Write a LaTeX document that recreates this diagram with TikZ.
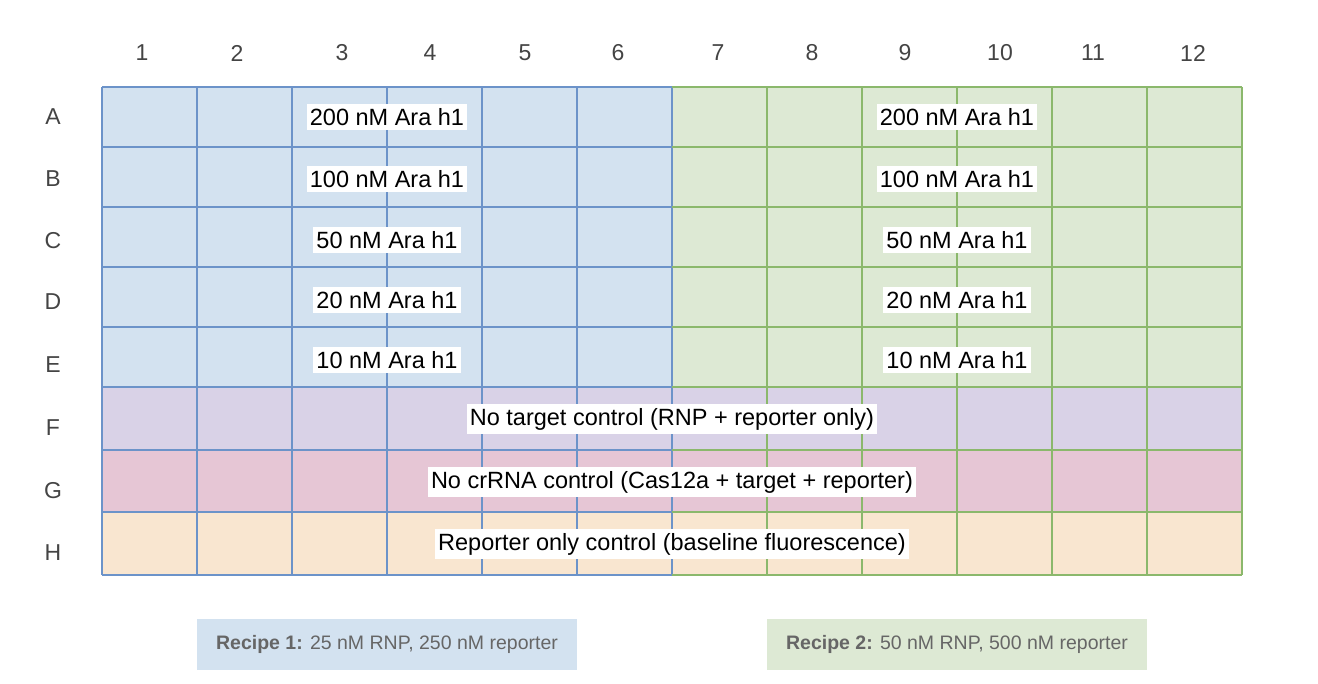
\documentclass[tikz,border=0pt]{standalone}
\usepackage{fontspec}
\setmainfont{Liberation Sans}
\definecolor{bfill}{HTML}{D3E2F0}
\definecolor{gfill}{HTML}{DDE9D4}
\definecolor{pfill}{HTML}{D9D2E7}
\definecolor{rfill}{HTML}{E6C6D5}
\definecolor{ofill}{HTML}{F9E6D0}
\definecolor{bline}{HTML}{6C93C9}
\definecolor{gline}{HTML}{8BB86C}
\definecolor{hdr}{HTML}{444444}
\definecolor{rtxt}{HTML}{666666}
\begin{document}
\begin{tikzpicture}[x=1pt,y=-1pt,
  lab/.style={fill=white,inner xsep=3pt,inner ysep=4pt,font=\fontsize{23.5}{26}\selectfont},
  hd/.style={text=hdr,font=\fontsize{23}{25}\selectfont},
  rec/.style={minimum width=380pt,minimum height=51pt,inner sep=0pt,text=rtxt,font=\fontsize{19.5}{22}\selectfont}]
\useasboundingbox (0,0) rectangle (1318,684);
% fills
\fill[bfill] (102,87) rectangle (672,387);
\fill[gfill] (672,87) rectangle (1242,387);
\fill[pfill] (102,387) rectangle (1242,450);
\fill[rfill] (102,450) rectangle (1242,512);
\fill[ofill] (102,512) rectangle (1242,575);
% grid lines
\foreach \x in {102,197,292,387,482,577,672}
  \draw[bline,line width=1.2pt] (\x,87) -- (\x,575);
\foreach \x in {767,862,957,1052,1147,1242}
  \draw[gline,line width=1.2pt] (\x,87) -- (\x,575);
\foreach \y in {87,147,207,267,327,387,450,512,575}{
  \draw[bline,line width=1.2pt] (102,\y) -- (672,\y);
  \draw[gline,line width=1.2pt] (672,\y) -- (1242,\y);}
% headers
\foreach \x/\t in {142/1,237/2,342/3,430/4,525/5,618/6,718/7,812/8,905/9,1000/10,1093/11,1193/12}
  \node[hd] (c\t) at (\x,53) {\t};
\foreach \y/\t in {117/A,179/B,241/C,302/D,365/E,428/F,491/G,553/H}
  \node[hd] (r\t) at (53,\y) {\t};
% labels
\foreach \y/\t/\n in {117/200/a,179/100/b,240/50/c,300/20/d,360/10/e}{
  \node[lab] (l\n) at (387,\y) {\t\ nM Ara h1};
  \node[lab] (g\n) at (957,\y) {\t\ nM Ara h1};}
\node[lab] (nf) at (672,419) {No target control (RNP + reporter only)};
\node[lab] (ng) at (672,482) {No crRNA control (Cas12a + target + reporter)};
\node[lab] (nh) at (672,544) {Reporter only control (baseline fluorescence)};
% recipes
\node[rec,fill=bfill] (rc1) at (387,644) {\textbf{Recipe 1:} 25 nM RNP, 250 nM reporter};
\node[rec,fill=gfill] (rc2) at (957,644) {\textbf{Recipe 2:} 50 nM RNP, 500 nM reporter};
\end{tikzpicture}
\end{document}
